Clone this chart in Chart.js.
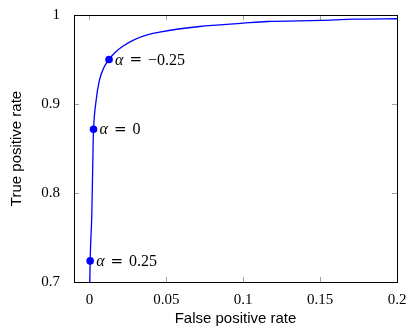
<!DOCTYPE html>
<html>
<head>
<meta charset="utf-8">
<script src="https://cdn.jsdelivr.net/npm/chart.js@4/dist/chart.umd.min.js"></script>
<style>
  html, body { margin: 0; padding: 0; background: #fff; }
  canvas { display: block; }
</style>
</head>
<body>
<canvas id="roc" width="410" height="328"></canvas>
<script>
(function () {
  'use strict';

  // ── Data ───────────────────────────────────────────────────────
  const curveFpr = [0.0003, 0.0005, 0.0016, 0.0025, 0.0027, 0.0043, 0.0064, 0.0093, 0.0128,
    0.0162, 0.0217, 0.0293, 0.0381, 0.0457, 0.0717, 0.0998, 0.1155, 0.150, 0.1718, 0.2006];
  const curveTpr = [0.700, 0.7237, 0.777, 0.8605, 0.8717, 0.903, 0.9257, 0.9405, 0.950,
    0.957, 0.9648, 0.9723, 0.9779, 0.9808, 0.9871, 0.9908, 0.9927, 0.9939, 0.9953, 0.9958];

  const alphaFpr = [0.0005, 0.0027, 0.0128];
  const alphaTpr = [0.7237, 0.8717, 0.950];
  const alphaLabels = ['0.25', '0', '\u22120.25'];

  const xTickValues = [0, 0.05, 0.1, 0.15, 0.2];
  const xTickLabels = ['0', '0.05', '0.1', '0.15', '0.2'];
  const yTickValues = [0.7, 0.8, 0.9, 1];
  const yTickLabels = ['0.7', '0.8', '0.9', '1'];

  // ── Style ──────────────────────────────────────────────────────
  const BLUE = '#0000ff';
  const SERIF = '"Liberation Serif", "DejaVu Serif", serif';
  const SANS = '"Liberation Sans", "DejaVu Sans", sans-serif';

  // ── Frame + inward ticks (pgfplots look) ───────────────────────
  const framePlugin = {
    id: 'frame',
    beforeDatasetsDraw(chart) {
      const { ctx, chartArea: a, scales } = chart;
      ctx.save();
      ctx.strokeStyle = '#8c8c8c';
      ctx.lineWidth = 0.8;
      ctx.beginPath();
      xTickValues.forEach(v => {
        const px = Math.round(scales.x.getPixelForValue(v)) + 0.5;
        ctx.moveTo(px, a.bottom); ctx.lineTo(px, a.bottom - 5);
        ctx.moveTo(px, a.top); ctx.lineTo(px, a.top + 5);
      });
      yTickValues.forEach(v => {
        const py = Math.round(scales.y.getPixelForValue(v)) + 0.5;
        ctx.moveTo(a.left, py); ctx.lineTo(a.left + 5, py);
        ctx.moveTo(a.right, py); ctx.lineTo(a.right - 5, py);
      });
      ctx.stroke();
      ctx.restore();
    },
    afterDatasetsDraw(chart) {
      const { ctx, chartArea: a } = chart;
      ctx.save();
      ctx.strokeStyle = '#000';
      ctx.lineWidth = 1;
      ctx.strokeRect(Math.round(a.left) + 0.5, Math.round(a.top) + 0.5,
        Math.round(a.right - a.left), Math.round(a.bottom - a.top));
      ctx.restore();
    },
  };

  // ── α annotations next to the points ───────────────────────────
  const alphaPlugin = {
    id: 'alphaLabels',
    afterDatasetsDraw(chart) {
      const { ctx } = chart;
      const meta = chart.getDatasetMeta(1);
      ctx.save();
      ctx.fillStyle = '#000';
      ctx.textBaseline = 'middle';
      meta.data.forEach((pt, i) => {
        const parts = [
          { t: '\u03b1', f: 'italic 16px ' + SERIF, gap: 6 },
          { t: '=', f: '15px "DejaVu Sans", sans-serif', gap: 6 },
          { t: alphaLabels[i], f: '16px ' + SERIF, gap: 0 },
        ];
        let x = pt.x + 6;
        const y = pt.y + 1;
        parts.forEach(p => {
          ctx.font = p.f;
          ctx.fillText(p.t, x, y);
          x += ctx.measureText(p.t).width + p.gap;
        });
      });
      ctx.restore();
    },
  };

  // ── Chart ──────────────────────────────────────────────────────
  const curve = curveFpr.map((x, i) => ({ x, y: curveTpr[i] }));
  const points = alphaFpr.map((x, i) => ({ x, y: alphaTpr[i] }));

  new Chart(document.getElementById('roc'), {
    type: 'scatter',
    data: {
      datasets: [
        {
          data: curve,
          showLine: true,
          borderColor: BLUE,
          borderWidth: 1.3,
          pointRadius: 0,
          cubicInterpolationMode: 'monotone',
        },
        {
          data: points,
          showLine: false,
          pointRadius: 3.8,
          pointBackgroundColor: BLUE,
          pointBorderColor: BLUE,
          pointBorderWidth: 0,
        },
      ],
    },
    options: {
      responsive: false,
      animation: false,
      layout: { padding: { left: 0, top: 14, right: 13, bottom: 0 } },
      plugins: { legend: { display: false }, tooltip: { enabled: false } },
      scales: {
        x: {
          type: 'linear',
          min: -0.01,
          max: 0.2,
          afterBuildTicks: s => { s.ticks = xTickValues.map(value => ({ value })); },
          afterFit: s => { s.height = 46; },
          ticks: {
            color: '#000',
            font: { family: SERIF, size: 15 },
            padding: 1,
            maxRotation: 0,
            autoSkip: false,
            callback: v => xTickLabels[xTickValues.indexOf(v)],
          },
          grid: { display: false },
          border: { display: false },
          title: {
            display: true,
            text: 'False positive rate',
            color: '#000',
            font: { family: SANS, size: 15 },
            padding: { top: 0, bottom: 0 },
          },
        },
        y: {
          type: 'linear',
          min: 0.7,
          max: 1,
          afterBuildTicks: s => { s.ticks = yTickValues.map(value => ({ value })); },
          afterFit: s => { s.width = 74; },
          ticks: {
            color: '#000',
            font: { family: SERIF, size: 15 },
            padding: 6,
            callback: v => yTickLabels[yTickValues.indexOf(v)],
          },
          grid: { display: false },
          border: { display: false },
          title: {
            display: true,
            text: 'True positive rate',
            color: '#000',
            font: { family: SANS, size: 15 },
            padding: { top: 8, bottom: 0 },
          },
        },
      },
    },
    plugins: [framePlugin, alphaPlugin],
  });
})();
</script>
</body>
</html>
